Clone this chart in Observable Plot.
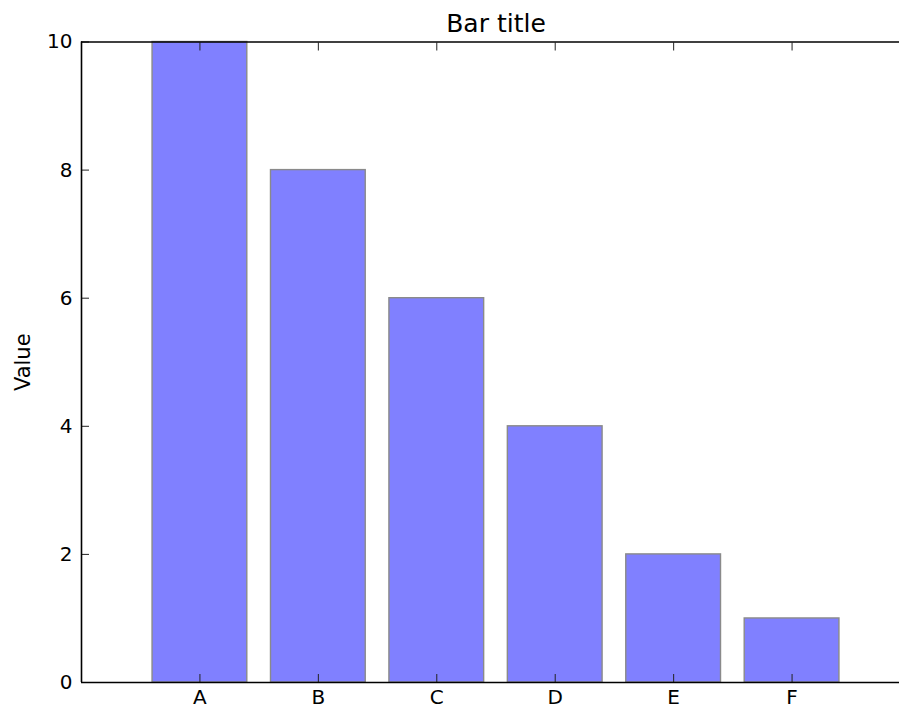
<!DOCTYPE html>
<html>
<head>
<meta charset="utf-8">
<script src="https://cdn.jsdelivr.net/npm/d3@7"></script>
<script src="https://cdn.jsdelivr.net/npm/@observablehq/plot@0.6"></script>
<style>
  html, body { margin: 0; padding: 0; background: #fff; }
  svg { display: block; }
</style>
</head>
<body>
<div id="chart"></div>
<script>
const title = "Bar title";
const yLabel = "Value";
const categories = ["A", "B", "C", "D", "E", "F"];
const values = [10, 8, 6, 4, 2, 1];
const yTicks = [0, 2, 4, 6, 8, 10];
const xDomain = [-1, 6];
const yDomain = [0, 10];

const data = categories.map((c, i) => ({i, category: c, value: values[i]}));
const xTicks = categories.map((c, i) => i);

const chart = Plot.plot({
  width: 899,
  height: 709,
  marginLeft: 81,
  marginRight: 0,
  marginTop: 41.5,
  marginBottom: 27,
  style: {fontFamily: "DejaVu Sans", fontSize: "20px", color: "#000", background: "#fff"},
  x: {type: "linear", domain: xDomain, range: [81, 910]},
  y: {domain: yDomain},
  marks: [
    Plot.rectY(data, {x1: d => d.i - 0.4, x2: d => d.i + 0.4, y: "value", fill: "#8080ff", stroke: "#8a8a8a", strokeWidth: 1.4}),
    Plot.axisY({ticks: yTicks, tickSize: 0, tickPadding: 9, label: null, fontSize: 20}),
    Plot.axisY({ticks: yTicks, tickSize: -8, tickFormat: () => "", label: null, stroke: "#222"}),
    Plot.axisX({ticks: xTicks, tickSize: 0, tickPadding: 7, tickFormat: i => categories[i], label: null, fontSize: 20}),
    Plot.axisX({ticks: xTicks, tickSize: -8, tickFormat: () => "", label: null, stroke: "#222"}),
    Plot.axisX({anchor: "top", ticks: xTicks, tickSize: -8, tickFormat: () => "", label: null, stroke: "#222"}),
    Plot.ruleX([xDomain[0]], {stroke: "#000", strokeWidth: 1.6}),
    Plot.ruleY(yDomain, {stroke: "#000", strokeWidth: 1.6}),
    Plot.text([yLabel], {frameAnchor: "left", dx: -66, rotate: -90, textAnchor: "middle", lineAnchor: "top", fontSize: 21, fill: "#000"}),
    Plot.text([title], {x: () => (xDomain[0] + xDomain[1]) / 2, frameAnchor: "top", dy: -10, lineAnchor: "bottom", fontSize: 25, fill: "#000"})
  ]
});
document.getElementById("chart").appendChild(chart);
</script>
</body>
</html>
